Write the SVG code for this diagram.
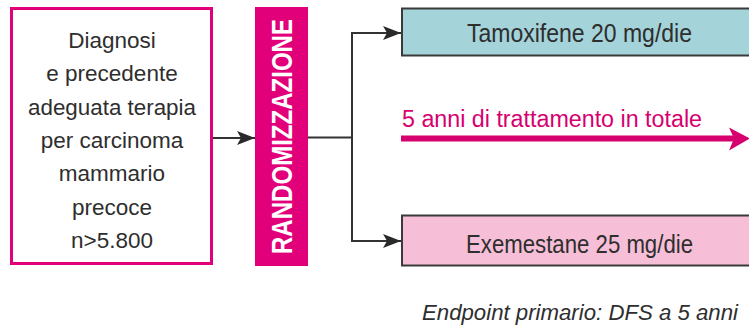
<svg xmlns="http://www.w3.org/2000/svg" width="749" height="328" viewBox="0 0 749 328">
  <style>
    .txt { font-family: "Liberation Sans", Arial, sans-serif; fill: #2e2e2e; }
    .lbl { font-size: 22.5px; text-anchor: middle; }
    .arm { font-size: 25px; text-anchor: middle; }
    .conn { fill: none; stroke: #333333; stroke-width: 2; }
    .box { stroke: #3a3a3a; stroke-width: 2; }
  </style>
  <defs>
    <marker id="arrow" viewBox="0 0 18 14" refX="18" refY="7" markerWidth="18" markerHeight="14" markerUnits="userSpaceOnUse" orient="auto">
      <path d="M0,0 L18,7 L0,14 L4,7 Z" fill="#2a2a2a"/>
    </marker>
  </defs>

  <!-- patient population -->
  <g id="population">
    <rect x="11.5" y="8.5" width="200" height="255" fill="#ffffff" stroke="#e2007a" stroke-width="3"/>
    <text class="txt lbl" x="112" y="48">Diagnosi</text>
    <text class="txt lbl" x="112" y="81.3">e precedente</text>
    <text class="txt lbl" x="112" y="114.7" textLength="168" lengthAdjust="spacingAndGlyphs">adeguata terapia</text>
    <text class="txt lbl" x="112" y="148">per carcinoma</text>
    <text class="txt lbl" x="112" y="181.3">mammario</text>
    <text class="txt lbl" x="112" y="214.7">precoce</text>
    <text class="txt lbl" x="112" y="248">n&gt;5.800</text>
  </g>

  <!-- randomisation bar -->
  <g id="randomizzazione">
    <rect x="255" y="7" width="53" height="259" fill="#e2007a"/>
    <text transform="translate(292,136.5) rotate(-90)" x="0" y="0" text-anchor="middle" font-family="'Liberation Sans', Arial, sans-serif" font-weight="bold" font-size="29" fill="#ffffff" textLength="235" lengthAdjust="spacingAndGlyphs">RANDOMIZZAZIONE</text>
  </g>

  <!-- treatment arms -->
  <g id="tamoxifene">
    <rect class="box" x="402" y="8.5" width="360" height="47" fill="#a4d3d9"/>
    <text class="txt arm" x="579.5" y="42" textLength="225" lengthAdjust="spacingAndGlyphs">Tamoxifene 20 mg/die</text>
  </g>
  <g id="exemestane">
    <rect class="box" x="402" y="215.5" width="360" height="50" fill="#f7bfd7"/>
    <text class="txt arm" x="579.5" y="253" textLength="227" lengthAdjust="spacingAndGlyphs">Exemestane 25 mg/die</text>
  </g>

  <!-- treatment duration -->
  <g id="durata">
    <text x="402" y="127" font-family="'Liberation Sans', Arial, sans-serif" font-size="23.5" fill="#d6006f" textLength="300" lengthAdjust="spacingAndGlyphs">5 anni di trattamento in totale</text>
    <line x1="401" y1="138.5" x2="734" y2="138.5" stroke="#d6006f" stroke-width="6"/>
    <path d="M729,127.5 L750,138.5 L729,150.5 L734,138.5 Z" fill="#d6006f"/>
  </g>

  <!-- endpoint -->
  <g id="endpoint">
    <text class="txt" x="422" y="320" font-size="22.5" font-style="italic" textLength="316" lengthAdjust="spacingAndGlyphs">Endpoint primario: DFS a 5 anni</text>
  </g>

  <!-- connectors -->
  <g id="connectors">
    <line class="conn" x1="213" y1="138" x2="255" y2="138" marker-end="url(#arrow)"/>
    <line class="conn" x1="308" y1="137.5" x2="352" y2="137.5"/>
    <line class="conn" x1="352" y1="32" x2="352" y2="242"/>
    <line class="conn" x1="351" y1="33" x2="401" y2="33" marker-end="url(#arrow)"/>
    <line class="conn" x1="351" y1="241" x2="401" y2="241" marker-end="url(#arrow)"/>
  </g>
</svg>
